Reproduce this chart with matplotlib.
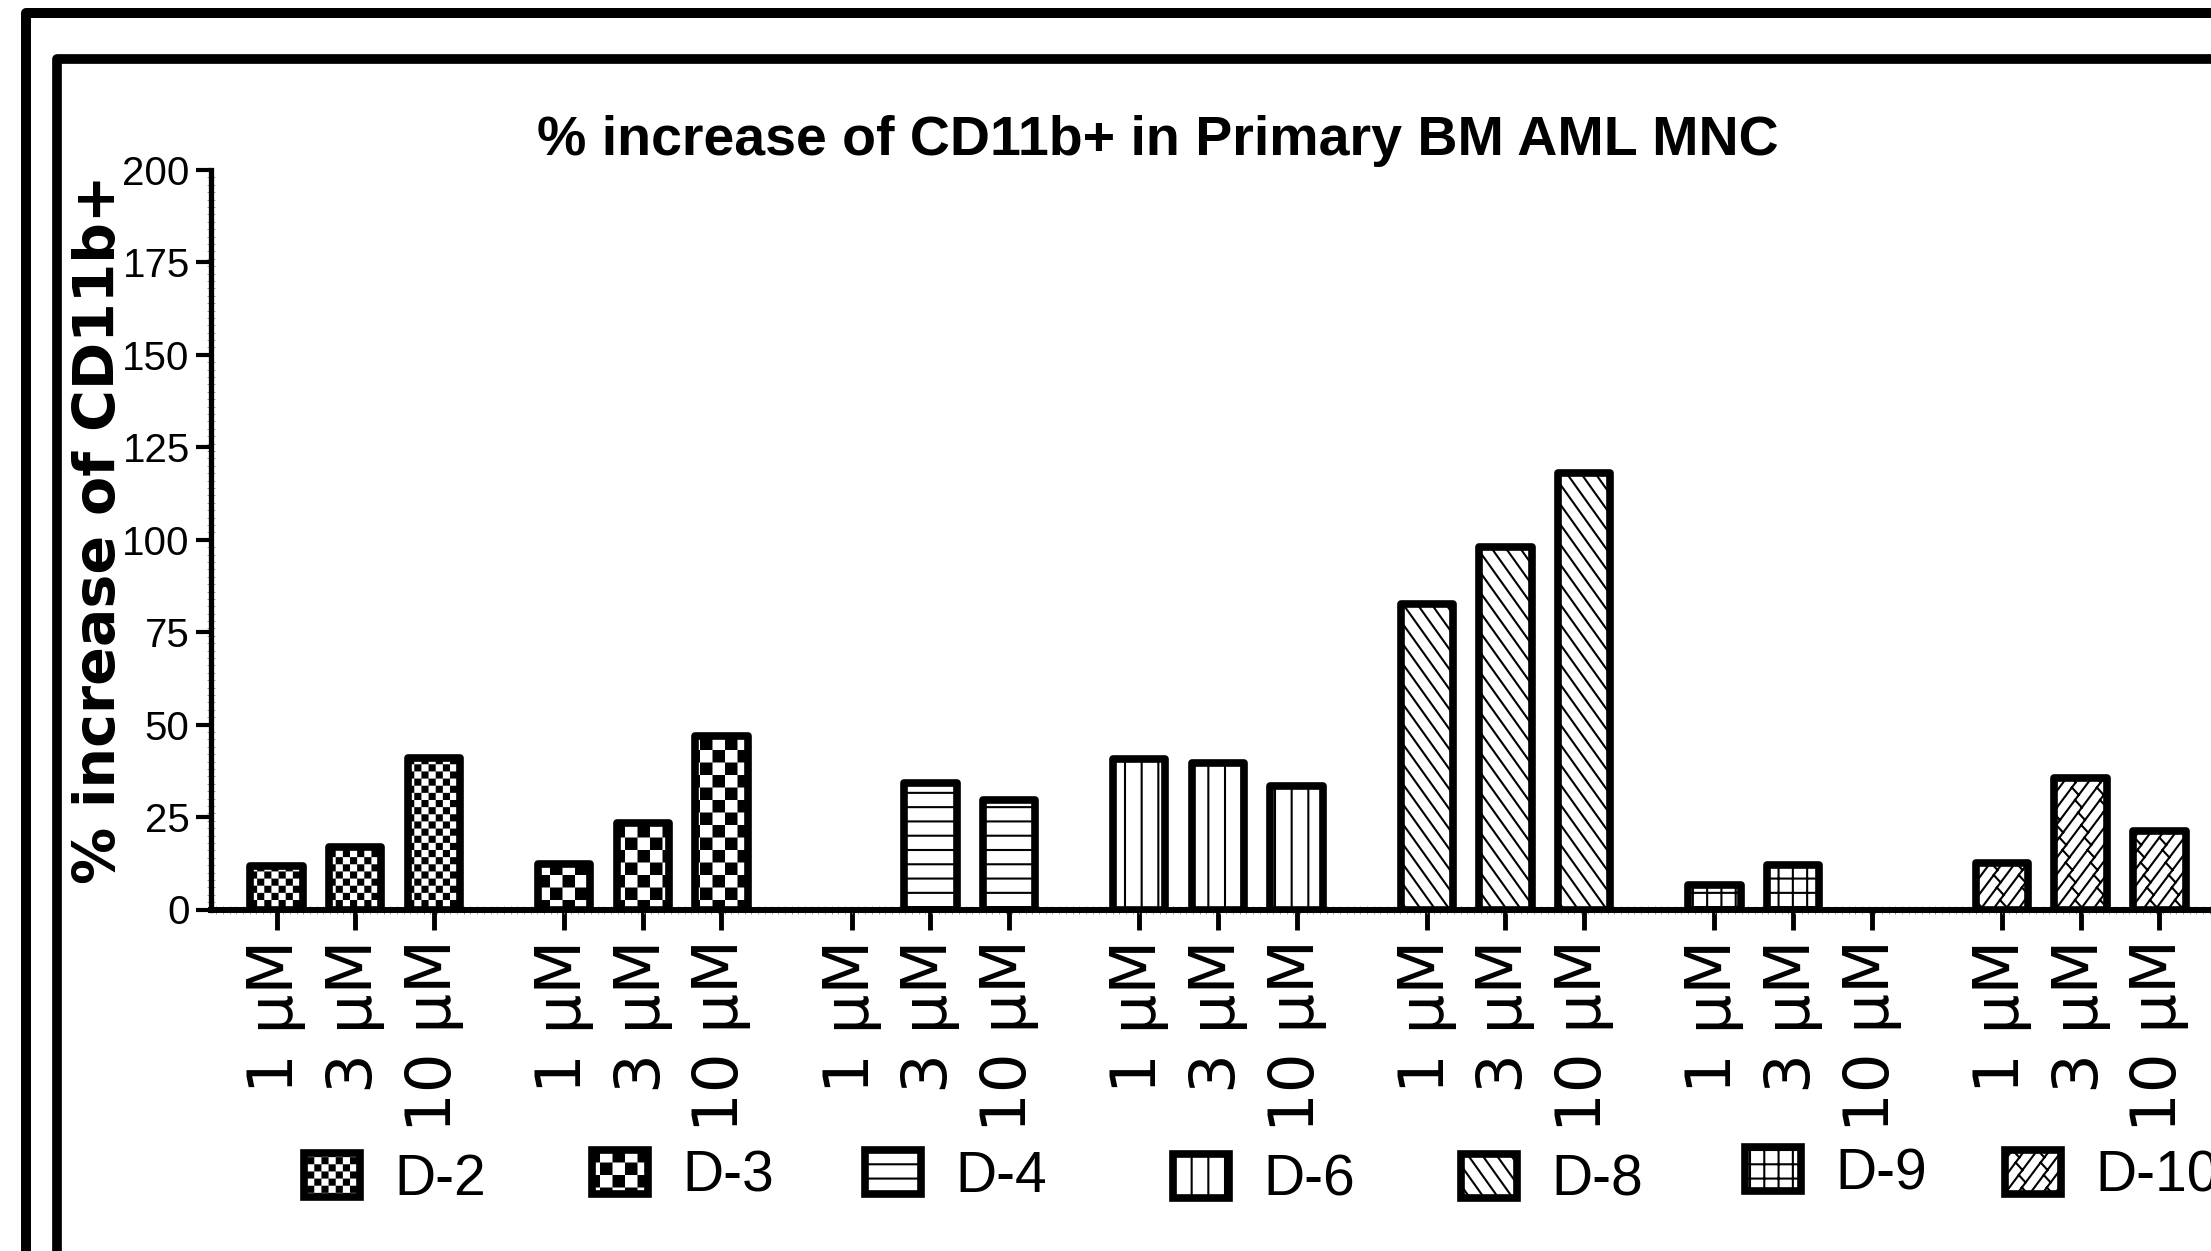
import warnings
warnings.filterwarnings('ignore')
import numpy as np
import matplotlib
matplotlib.use('Agg')
import matplotlib.pyplot as plt
import matplotlib.hatch as mhatch
from matplotlib.path import Path
from matplotlib.patches import Rectangle
from matplotlib.ticker import MultipleLocator
from matplotlib import font_manager as fm

# ---------------- data ----------------
donors = ['D-2', 'D-3', 'D-4', 'D-6', 'D-8', 'D-9', 'D-10']
doses = ['1 µM', '3 µM', '10 µM']
d2 = [11.7, 17.0, 41.0]
d3 = [12.3, 23.4, 46.9]
d4 = [0.0, 34.2, 29.6]
d6 = [40.8, 39.7, 33.4]
d8 = [82.5, 98.0, 118.1]
d9 = [6.7, 11.9, 0.0]
d10 = [12.5, 35.5, 21.1]
series = [d2, d3, d4, d6, d8, d9, d10]
yticks = [0, 25, 50, 75, 100, 125, 150, 175, 200]
title = '% increase of CD11b+ in Primary BM AML MNC'
ylabel = '% increase of CD11b+'

# ---------------- fonts ----------------
names = {f.name for f in fm.fontManager.ttflist}
HAS_NARROW = 'Liberation Sans Narrow' in names
NARROW = 'Liberation Sans Narrow' if HAS_NARROW else 'Liberation Sans'
WIDE = 'DejaVu Sans'
TITLE_FS = 47 if HAS_NARROW else 40
YTICK_FS = 34 if HAS_NARROW else 29
LEG_FS = 47 if HAS_NARROW else 41

# ---------------- custom hatch patterns ----------------
M, L, CL = Path.MOVETO, Path.LINETO, Path.CLOSEPOLY


def checker(n, inset):
    V, C = [], []
    c = 1.0 / n
    for i in range(n):
        for j in range(n):
            if (i + j) % 2 == 0:
                x0, y0, s = i * c + inset, j * c + inset, c - 2 * inset
                V += [(x0, y0), (x0 + s, y0), (x0 + s, y0 + s), (x0, y0 + s), (x0, y0)]
                C += [M, L, L, L, CL]
    return V, C


def hlines(n):
    V, C = [], []
    for i in range(n):
        y = (i + 0.5) / n
        V += [(0, y), (1, y)]
        C += [M, L]
    return V, C


def vlines(n):
    V, C = [], []
    for i in range(n):
        x = (i + 0.5) / n
        V += [(x, 0), (x, 1)]
        C += [M, L]
    return V, C


def back_diag(n, k):
    V, C = [], []
    for i in range(-n, 2 * n + 1):
        x0 = i / n
        V += [(x0, 1), (x0 + k / n, 0)]
        C += [M, L]
    return V, C


def grid(n):
    v1, c1 = hlines(n)
    v2, c2 = vlines(n)
    return v1 + v2, c1 + c2


def brick(n=8, k=6, m=4, delta=0.075):
    V, C = [], []
    sh = k / n
    for i in range(-n, 2 * n + 1):
        x0 = i / n
        V += [(x0, 0), (x0 + sh, 1)]
        C += [M, L]
    for g in range(-n - 2, 2 * n + 2):
        for j in range(-2, m + 3):
            y = (j + 0.5 * (g % 2)) / m
            xa = g / n + y * sh
            y2 = y - delta
            xb = (g + 1) / n + y2 * sh
            if -0.3 < xa < 1.3 and -0.3 < y < 1.3:
                V += [(xa, y), (xb, y2)]
                C += [M, L]
    return V, C


class CustomHatch(mhatch.HatchPatternBase):
    patterns = {}

    def __init__(self, hatch, density):
        V, C = [], []
        for ch, (v, c) in CustomHatch.patterns.items():
            if ch in hatch:
                V += v
                C += c
        self._V = np.array(V, float).reshape(-1, 2)
        self._C = np.array(C, dtype=Path.code_type)
        self.num_vertices = len(self._V)

    def set_vertices_and_codes(self, vertices, codes):
        vertices[:] = self._V
        codes[:] = self._C


CustomHatch.patterns = {
    'c': checker(14, 0.0105),
    'k': checker(8, 0.0105),
    'h': hlines(7),
    'v': vlines(6),
    'd': back_diag(7, 5),
    'g': grid(7),
    'z': brick(),
}
mhatch._hatch_types.append(CustomHatch)
hatch_codes = ['c', 'k', 'h', 'v', 'd', 'g', 'z']

plt.rcParams['hatch.linewidth'] = 1.5
plt.rcParams['hatch.color'] = 'black'

# ---------------- figure ----------------
W, H = 2211, 1251
fig = plt.figure(figsize=(W / 100, H / 100), dpi=100)
fig.patch.set_facecolor('white')

x_axis_px = 210.5
first_bar_px = 276.5
pitch_px = 78.7
y0_px, y200_px = 909.5, 170.0
right_px = 2330.0
GROUP_STEP = 3.654

xl = (x_axis_px - first_bar_px) / pitch_px
xr = (right_px - first_bar_px) / pitch_px
ax = fig.add_axes([x_axis_px / W, (H - y0_px) / H,
                   (right_px - x_axis_px) / W, (y0_px - y200_px) / H])
ax.set_xlim(xl, xr)
ax.set_ylim(0, 200)
ax.set_facecolor('none')

handles = []
tick_pos, tick_lab = [], []
for g, (vals, hc, name) in enumerate(zip(series, hatch_codes, donors)):
    xs = [g * GROUP_STEP + i for i in range(len(vals))]
    tick_pos += xs
    tick_lab += doses
    keep = [(x, v) for x, v in zip(xs, vals) if v > 0]
    bc = ax.bar([k[0] for k in keep], [k[1] for k in keep], width=0.667,
                facecolor='white', edgecolor='black', linewidth=5.5,
                hatch=hc, label=name, zorder=3)
    for p in bc.patches:
        p.set_joinstyle('round')
    handles.append(bc)

for s in ['top', 'right']:
    ax.spines[s].set_visible(False)
ax.spines['left'].set_linewidth(3.8)
ax.spines['bottom'].set_linewidth(4.3)
ax.spines['left'].set_bounds(0, 200)
ax.spines['left'].set_capstyle('projecting')

ax.set_yticks(yticks)
ax.set_yticklabels([str(t) for t in yticks], fontfamily=NARROW, fontsize=YTICK_FS)
ax.set_xticks(tick_pos)
ax.set_xticklabels(tick_lab, rotation=90, fontfamily=WIDE, fontsize=45)
ax.tick_params(axis='y', which='major', direction='out', length=11, width=3,
               pad=4, color='black')
ax.tick_params(axis='x', which='major', direction='out', length=14.5, width=3.5,
               pad=7, color='black')
ax.yaxis.set_minor_locator(MultipleLocator(2))
ax.xaxis.set_minor_locator(MultipleLocator(0.085))
ax.tick_params(which='minor', direction='inout', length=6, width=0.6, color='0.55')

# titles
fig.text(1158 / W, 1 - 141 / H, title, ha='center', va='center',
         fontfamily=NARROW, fontweight='bold', fontsize=TITLE_FS)
fig.text(100 / W, 1 - 529 / H, ylabel, ha='center', va='center', rotation=90,
         fontfamily=WIDE, fontweight='bold', fontsize=41)

# legend: one entry per donor, placed under its group
fs_px = LEG_FS * 100 / 72
leg_left_px = [300, 588, 861, 1169, 1457, 1741, 2001]
leg_y_px = [1180, 1177, 1177, 1181, 1181, 1174, 1177]
for h, name, lx, ly in zip(handles, donors, leg_left_px, leg_y_px):
    fig.legend([h], [name], loc='center left',
               bbox_to_anchor=((lx + 3.8) / W, 1 - ly / H), frameon=False,
               prop={'family': NARROW, 'size': LEG_FS},
               handlelength=56.4 / fs_px, handleheight=46.4 / fs_px,
               handletextpad=34 / fs_px, borderpad=0, borderaxespad=0)

# nested frame borders (extending past the right/bottom edges)
for lx, ty, lw in [(26, 13, 7.2), (57.5, 58.5, 7.0)]:
    r = Rectangle((lx / 100, -1.0), 40, (H - ty) / 100 + 1.0,
                  transform=fig.dpi_scale_trans, fill=False,
                  edgecolor='black', linewidth=lw, joinstyle='round')
    fig.add_artist(r)

fig.savefig('out.png', dpi=100, facecolor='white')
